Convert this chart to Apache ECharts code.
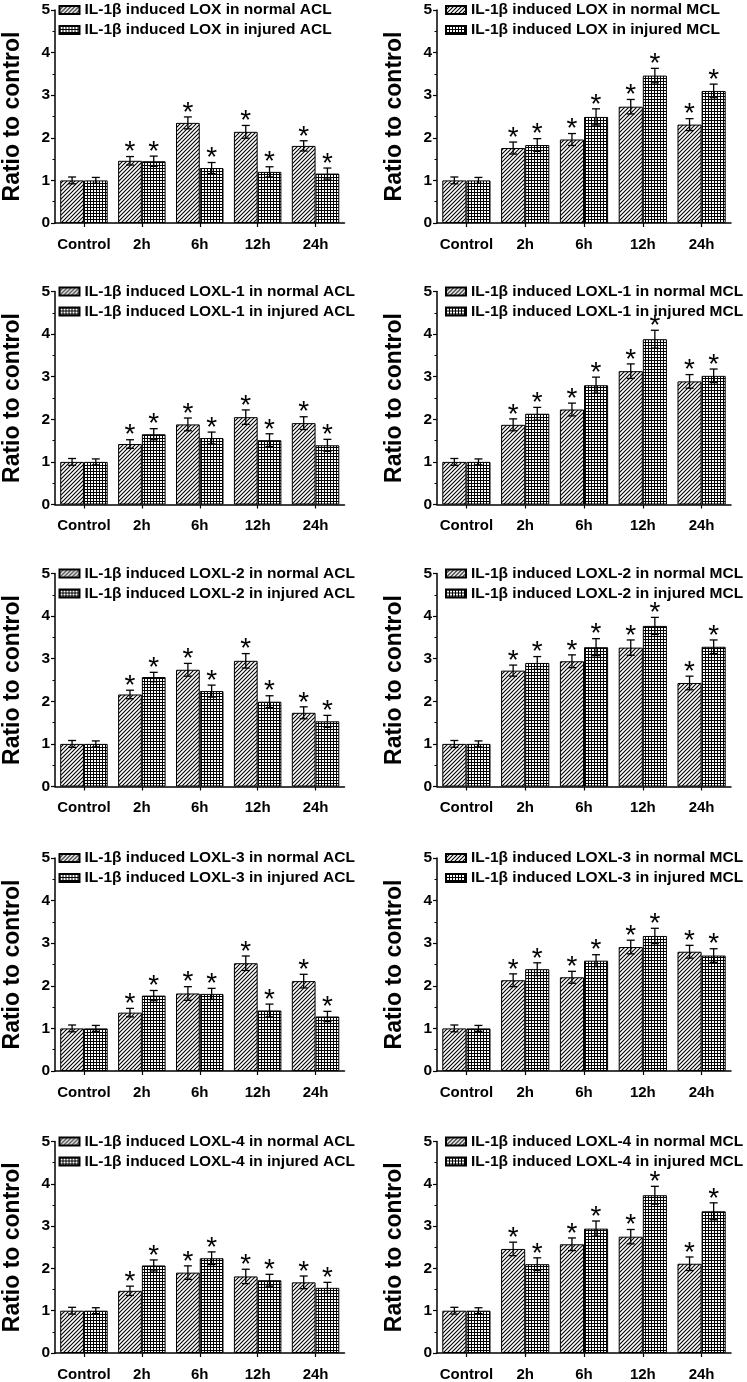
<!DOCTYPE html>
<html><head><meta charset="utf-8">
<script src="https://cdn.jsdelivr.net/npm/echarts/dist/echarts.min.js"></script>
<style>html,body{margin:0;padding:0;background:#fff}#c{width:747px;height:1382px}</style>
</head><body><div id="c"></div>
<script>
// ---------- data ----------
const categories = ['Control', '2h', '6h', '12h', '24h'];
const stars = ['', '*', '*', '*', '*'];
const genes = ['LOX', 'LOXL-1', 'LOXL-2', 'LOXL-3', 'LOXL-4'];
const ligaments = ['ACL', 'MCL'];

// LOX
const loxACLNormal = [1.00, 1.46, 2.35, 2.14, 1.81];
const loxACLNormalErr = [0.08, 0.10, 0.14, 0.15, 0.12];
const loxACLInjured = [1.00, 1.45, 1.29, 1.20, 1.16];
const loxACLInjuredErr = [0.07, 0.12, 0.13, 0.12, 0.13];
const loxMCLNormal = [1.00, 1.76, 1.96, 2.73, 2.31];
const loxMCLNormalErr = [0.08, 0.14, 0.14, 0.17, 0.14];
const loxMCLInjured = [1.00, 1.83, 2.49, 3.46, 3.10];
const loxMCLInjuredErr = [0.07, 0.15, 0.19, 0.17, 0.16];
// LOXL-1
const loxl1ACLNormal = [1.00, 1.42, 1.88, 2.05, 1.91];
const loxl1ACLNormalErr = [0.08, 0.10, 0.15, 0.17, 0.15];
const loxl1ACLInjured = [1.00, 1.65, 1.56, 1.51, 1.39];
const loxl1ACLInjuredErr = [0.07, 0.13, 0.14, 0.15, 0.14];
const loxl1MCLNormal = [1.00, 1.87, 2.23, 3.13, 2.89];
const loxl1MCLNormalErr = [0.08, 0.14, 0.15, 0.17, 0.16];
const loxl1MCLInjured = [1.00, 2.13, 2.80, 3.88, 3.02];
const loxl1MCLInjuredErr = [0.07, 0.15, 0.19, 0.21, 0.16];
// LOXL-2
const loxl2ACLNormal = [1.00, 2.16, 2.74, 2.95, 1.73];
const loxl2ACLNormalErr = [0.08, 0.10, 0.15, 0.17, 0.14];
const loxl2ACLInjured = [1.00, 2.57, 2.24, 1.99, 1.53];
const loxl2ACLInjuredErr = [0.07, 0.11, 0.14, 0.14, 0.14];
const loxl2MCLNormal = [1.00, 2.72, 2.94, 3.26, 2.43];
const loxl2MCLNormalErr = [0.08, 0.13, 0.15, 0.18, 0.16];
const loxl2MCLInjured = [1.00, 2.90, 3.27, 3.77, 3.28];
const loxl2MCLInjuredErr = [0.07, 0.15, 0.20, 0.20, 0.16];
// LOXL-3
const loxl3ACLNormal = [1.00, 1.37, 1.82, 2.53, 2.11];
const loxl3ACLNormalErr = [0.08, 0.10, 0.16, 0.17, 0.16];
const loxl3ACLInjured = [1.00, 1.77, 1.81, 1.42, 1.28];
const loxl3ACLInjuredErr = [0.07, 0.12, 0.13, 0.15, 0.12];
const loxl3MCLNormal = [1.00, 2.13, 2.20, 2.91, 2.80];
const loxl3MCLNormalErr = [0.08, 0.15, 0.14, 0.16, 0.15];
const loxl3MCLInjured = [1.00, 2.39, 2.59, 3.17, 2.71];
const loxl3MCLInjuredErr = [0.07, 0.15, 0.14, 0.18, 0.16];
// LOXL-4
const loxl4ACLNormal = [1.00, 1.47, 1.90, 1.81, 1.67];
const loxl4ACLNormalErr = [0.08, 0.11, 0.16, 0.17, 0.15];
const loxl4ACLInjured = [1.00, 2.07, 2.24, 1.72, 1.54];
const loxl4ACLInjuredErr = [0.07, 0.13, 0.15, 0.14, 0.13];
const loxl4MCLNormal = [1.00, 2.46, 2.57, 2.75, 2.11];
const loxl4MCLNormalErr = [0.08, 0.16, 0.15, 0.17, 0.16];
const loxl4MCLInjured = [1.00, 2.10, 2.94, 3.73, 3.35];
const loxl4MCLInjuredErr = [0.07, 0.15, 0.18, 0.21, 0.20];

const panels = [
  [loxACLNormal, loxACLNormalErr, loxACLInjured, loxACLInjuredErr, loxMCLNormal, loxMCLNormalErr, loxMCLInjured, loxMCLInjuredErr],
  [loxl1ACLNormal, loxl1ACLNormalErr, loxl1ACLInjured, loxl1ACLInjuredErr, loxl1MCLNormal, loxl1MCLNormalErr, loxl1MCLInjured, loxl1MCLInjuredErr],
  [loxl2ACLNormal, loxl2ACLNormalErr, loxl2ACLInjured, loxl2ACLInjuredErr, loxl2MCLNormal, loxl2MCLNormalErr, loxl2MCLInjured, loxl2MCLInjuredErr],
  [loxl3ACLNormal, loxl3ACLNormalErr, loxl3ACLInjured, loxl3ACLInjuredErr, loxl3MCLNormal, loxl3MCLNormalErr, loxl3MCLInjured, loxl3MCLInjuredErr],
  [loxl4ACLNormal, loxl4ACLNormalErr, loxl4ACLInjured, loxl4ACLInjuredErr, loxl4MCLNormal, loxl4MCLNormalErr, loxl4MCLInjured, loxl4MCLInjuredErr]
];

// ---------- styling ----------
const FONT = '"Liberation Sans", Arial, Helvetica, sans-serif';
function hatchPattern() {
  const c = document.createElement('canvas'); c.width = 4; c.height = 4;
  const g = c.getContext('2d');
  g.fillStyle = '#fff'; g.fillRect(0, 0, 4, 4);
  g.strokeStyle = '#000'; g.lineWidth = 1.1;
  g.beginPath();
  g.moveTo(0, 4); g.lineTo(4, 0);
  g.moveTo(-1, 1); g.lineTo(1, -1);
  g.moveTo(3, 5); g.lineTo(5, 3);
  g.stroke();
  return c;
}
function gridPattern() {
  const c = document.createElement('canvas'); c.width = 3; c.height = 3;
  const g = c.getContext('2d');
  g.fillStyle = '#fff'; g.fillRect(0, 0, 3, 3);
  g.fillStyle = '#000';
  g.fillRect(0, 0, 3, 1); g.fillRect(0, 0, 1, 3);
  return c;
}
const hatchFill = { image: hatchPattern(), repeat: 'repeat' };
const gridFill = { image: gridPattern(), repeat: 'repeat' };

const rowTops = [10, 291.5, 573.5, 858, 1141.5];
const colLefts = [50.5, 437];
const gridW = 294, gridH = 213;
const BAR_FRAC = 0.82;

const grids = [], xAxes = [], yAxes = [], series = [], legends = [];

function errRender(sIdx, starsArr) {
  return function (params, api) {
    const i = api.value(0), v = api.value(1), e = api.value(2);
    const c = api.coord([i, v]);
    const band = api.size([1, 0])[0];
    const bw = band * BAR_FRAC / 2;
    const x = c[0] + (sIdx === 0 ? -bw / 2 : bw / 2);
    const yt = api.coord([i, v + e])[1];
    const yb = api.coord([i, v - e])[1];
    const cap = 4;
    const ls = { stroke: '#000', lineWidth: 1.3 };
    const children = [
      { type: 'line', shape: { x1: x, y1: yb, x2: x, y2: yt }, style: ls },
      { type: 'line', shape: { x1: x - cap, y1: yt, x2: x + cap, y2: yt }, style: ls },
      { type: 'line', shape: { x1: x - cap, y1: yb, x2: x + cap, y2: yb }, style: ls }
    ];
    const st = starsArr[params.dataIndex];
    if (st) {
      children.push({ type: 'text', x: x, y: yt - 4,
        style: { text: st, fill: '#000', fontSize: 28, fontFamily: FONT, align: 'center', verticalAlign: 'middle' } });
    }
    return { type: 'group', children: children };
  };
}

let p = 0;
for (let r = 0; r < 5; r++) {
  for (let col = 0; col < 2; col++) {
    const d = panels[r];
    const normal = d[col * 4], normalErr = d[col * 4 + 1], injured = d[col * 4 + 2], injuredErr = d[col * 4 + 3];
    const nameN = 'IL-1\u03b2 induced ' + genes[r] + ' in normal ' + ligaments[col];
    const nameI = 'IL-1\u03b2 induced ' + genes[r] + ' in injured ' + ligaments[col];
    const left = colLefts[col], top = rowTops[r];
    grids.push({ left: left, top: top, width: gridW, height: gridH });
    xAxes.push({
      type: 'category', gridIndex: p, data: categories,
      axisLine: { show: true, lineStyle: { color: '#000', width: 1.5 } },
      axisTick: { show: true, alignWithLabel: true, length: 4, lineStyle: { color: '#000', width: 1.2 } },
      axisLabel: { color: '#000', fontSize: 15, fontWeight: 'bold', fontFamily: FONT, margin: 14, interval: 0 },
      splitLine: { show: false }
    });
    yAxes.push({
      type: 'value', gridIndex: p, min: 0, max: 5, interval: 1,
      axisLine: { show: true, lineStyle: { color: '#000', width: 1.5 } },
      axisTick: { show: true, length: 4, lineStyle: { color: '#000', width: 1.2 } },
      minorTick: { show: true, splitNumber: 2, length: 2.5, lineStyle: { color: '#000', width: 1 } },
      axisLabel: { color: '#000', fontSize: 15.5, fontWeight: 'bold', fontFamily: FONT, margin: 5 },
      splitLine: { show: false },
      name: 'Ratio to control', nameLocation: 'middle', nameGap: 31, nameRotate: 90,
      nameTextStyle: { color: '#000', fontSize: 23, fontWeight: 'bold', fontFamily: FONT }
    });
    series.push({
      name: nameN, type: 'bar', xAxisIndex: p, yAxisIndex: p, data: normal,
      barGap: '0%', barCategoryGap: '18%',
      itemStyle: { color: hatchFill, borderColor: '#000', borderWidth: 1 }
    });
    series.push({
      name: nameI, type: 'bar', xAxisIndex: p, yAxisIndex: p, data: injured,
      barGap: '0%', barCategoryGap: '18%',
      itemStyle: { color: gridFill, borderColor: '#000', borderWidth: 1 }
    });
    series.push({
      type: 'custom', xAxisIndex: p, yAxisIndex: p, z: 5,
      data: normal.map((v, i) => [i, v, normalErr[i]]),
      renderItem: errRender(0, stars)
    });
    series.push({
      type: 'custom', xAxisIndex: p, yAxisIndex: p, z: 5,
      data: injured.map((v, i) => [i, v, injuredErr[i]]),
      renderItem: errRender(1, stars)
    });
    legends.push({
      left: left + 8, top: top - 8, orient: 'vertical', padding: 0,
      itemWidth: 20, itemHeight: 8, itemGap: 4, selectedMode: false,
      textStyle: { color: '#000', fontSize: 15.5, fontWeight: 'bold', fontFamily: FONT, lineHeight: 16 },
      data: [{ name: nameN, icon: 'rect' }, { name: nameI, icon: 'rect' }]
    });
    p++;
  }
}

const chart = echarts.init(document.getElementById('c'), null, { renderer: 'canvas' });
chart.setOption({
  animation: false,
  backgroundColor: '#fff',
  grid: grids, xAxis: xAxes, yAxis: yAxes, series: series, legend: legends
});
</script></body></html>
